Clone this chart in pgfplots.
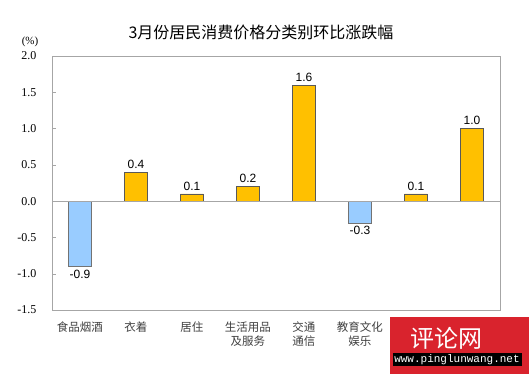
\documentclass[border=0pt]{standalone}
\usepackage{pgfplots}
\pgfplotsset{compat=1.18}
\usepackage{fontspec}
\setmainfont{Liberation Serif}
\newfontfamily\cjk{Noto Sans CJK SC}
\newfontfamily\sans{Liberation Sans}
\newfontfamily\mono{Liberation Mono}
\definecolor{ybar}{HTML}{FFC000}
\definecolor{bbar}{HTML}{99CCFF}
\definecolor{frame}{HTML}{A6A6A6}
\definecolor{wmred}{HTML}{D9232D}
\begin{document}
\begin{tikzpicture}
\useasboundingbox[fill=white] (0,0) rectangle (529bp,378bp);
\begin{axis}[
  at={(52bp,68bp)}, anchor=south west,
  scale only axis, width=448bp, height=254bp,
  xmin=-0.5, xmax=7.5, ymin=-1.5, ymax=2.0,
  ytick={-1.5,-1,-0.5,0,0.5,1,1.5,2},
  xtick={0,...,5},
  xticklabels={食品烟酒,衣着,居住,{生活用品\\及服务},{交通\\通信},{教育文化\\娱乐}},
  xticklabel style={font=\cjk\fontsize{11.5bp}{14bp}\selectfont, align=center, text=black!75, yshift=-4bp},
  yticklabel style={font=\fontsize{12bp}{14bp}\selectfont, xshift=-12bp,
    /pgf/number format/.cd, fixed, fixed zerofill, precision=1, assume math mode=true},
  major x tick style={draw=none},
  major tick length=4bp,
  tick align=inside,
  ytick pos=left,
  tick style={frame},
  axis line style={frame, line width=0.8pt},
  ybar, bar width=23bp,
  nodes near coords,
  every node near coord/.append style={font=\sans\fontsize{12bp}{14bp}\selectfont,
    /pgf/number format/.cd, fixed, fixed zerofill, precision=1, assume math mode=true},
  clip=false,
]
\addplot[bar shift=0pt, fill=bbar, draw=black!55, line width=0.7pt] coordinates {(0,-0.9) (5,-0.3)};
\addplot[bar shift=0pt, fill=ybar, draw=black!65, line width=0.7pt] coordinates {(1,0.4) (2,0.1) (3,0.2) (4,1.6) (6,0.1) (7,1.0)};
\draw[frame, line width=0.8pt] (axis cs:-0.5,0) -- (axis cs:7.5,0);
\end{axis}
\node[font=\cjk\fontsize{16bp}{18bp}\selectfont] at (261bp,346bp) {3月份居民消费价格分类别环比涨跌幅};
\node[font=\fontsize{11bp}{13bp}\selectfont] at (30bp,336bp) {(\%)};
% watermark
\fill[wmred] (390bp,4bp) rectangle (529bp,61bp);
\fill[black] (393bp,12bp) rectangle (522bp,25bp);
\node[text=white, font=\mono\fontsize{11bp}{12bp}\selectfont, inner sep=0pt] at (457bp,18.5bp) {www.pinglunwang.net};
\node[text=white, font=\cjk\fontsize{24bp}{26bp}\selectfont, inner sep=0pt] at (446bp,40bp) {评论网};
\end{tikzpicture}
\end{document}
